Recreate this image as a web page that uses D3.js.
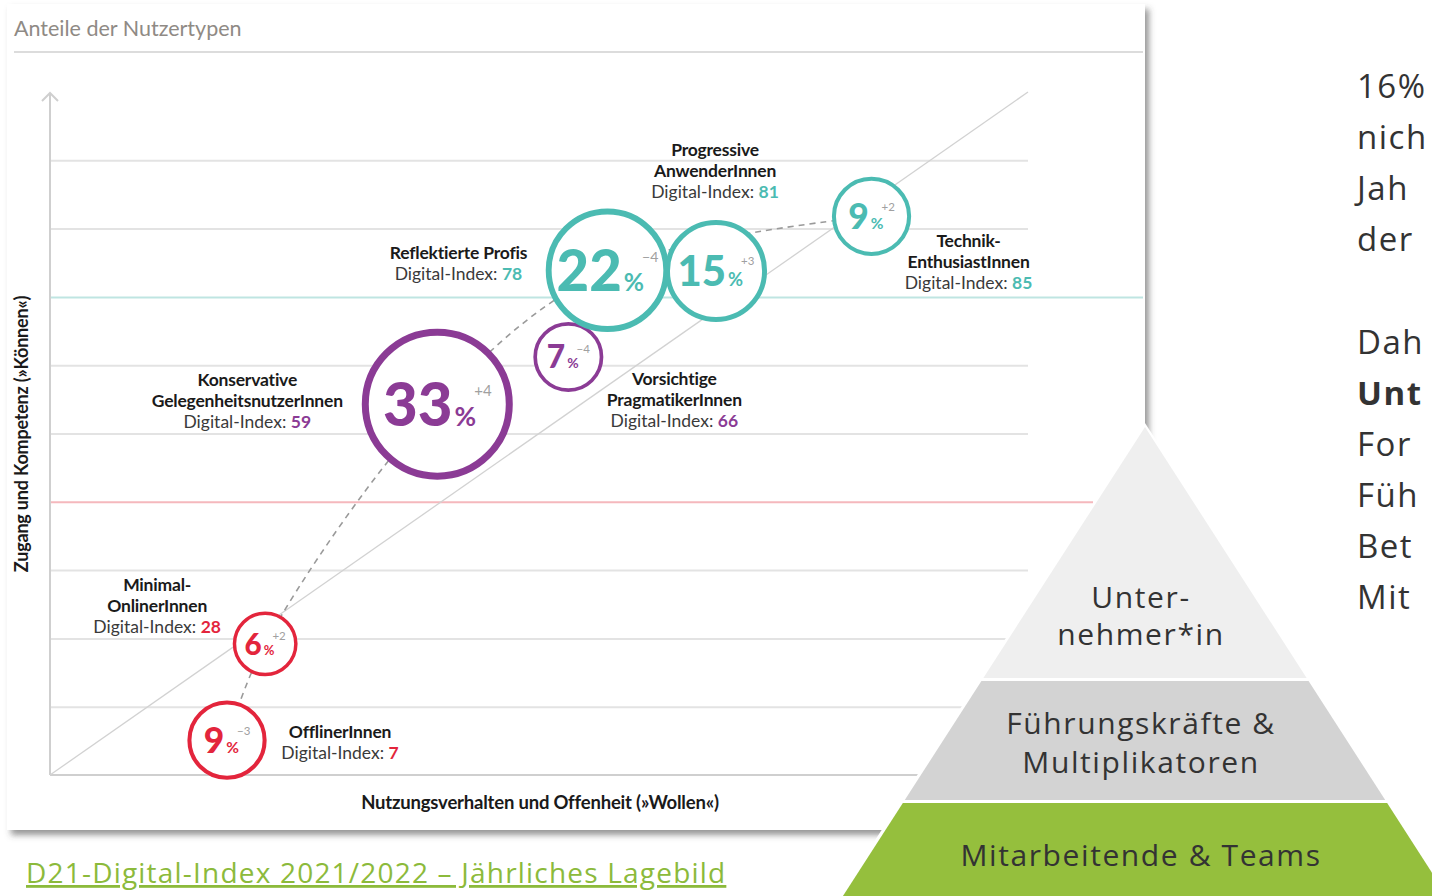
<!DOCTYPE html>
<html>
<head>
<meta charset="utf-8">
<script src="https://cdn.jsdelivr.net/npm/d3@7"></script>
<style>
  html, body { margin: 0; padding: 0; background: #fff; overflow: hidden; }
  svg { display: block; }
</style>
</head>
<body>
<svg id="slide" width="1432" height="896"></svg>
<script>
// Nutzertypen (D21-Digital-Index 2021/2022)
const userTypes = [
  'OfflinerInnen', 'Minimal-OnlinerInnen', 'Konservative GelegenheitsnutzerInnen',
  'Vorsichtige PragmatikerInnen', 'Reflektierte Profis', 'Progressive AnwenderInnen',
  'Technik-EnthusiastInnen'
];
const nameLines = [
  ['OfflinerInnen'], ['Minimal-', 'OnlinerInnen'], ['Konservative', 'GelegenheitsnutzerInnen'],
  ['Vorsichtige', 'PragmatikerInnen'], ['Reflektierte Profis'], ['Progressive', 'AnwenderInnen'],
  ['Technik-', 'EnthusiastInnen']
];
const shares = [9, 6, 33, 7, 22, 15, 9];
const changes = ['−3', '+2', '+4', '−4', '−4', '+3', '+2'];
const digitalIndex = [7, 28, 59, 66, 78, 81, 85];
const wollen = [18.1, 22.0, 39.6, 53.0, 57.0, 68.1, 84.0];   // x: Nutzungsverhalten und Offenheit
const koennen = [5.1, 19.2, 54.3, 61.2, 73.9, 73.8, 81.8];   // y: Zugang und Kompetenz
const groups = ['low', 'low', 'mid', 'mid', 'high', 'high', 'high'];
const curveTypes = ['OfflinerInnen', 'Minimal-OnlinerInnen', 'Konservative GelegenheitsnutzerInnen',
  'Reflektierte Profis', 'Technik-EnthusiastInnen'];
const gridValues = [10, 20, 30, 40, 50, 60, 70, 80, 90];

const pyramidTiers = [['Unter-', 'nehmer*in'], ['Führungskräfte &', 'Multiplikatoren'], ['Mitarbeitende & Teams']];
// slide text, visible only up to the window edge
const sideLines = ['16%', 'nich', 'Jah', 'der', '', 'Dah', 'Unt', 'For', 'Füh', 'Bet', 'Mit'];

// layout (pixels), kept apart from the values
const labelOffsets = [[113, -8], [-108, -59], [-190, -24], [106, 22], [-149, -17], [-1, -121], [97, 25]];
const tierBands = [[427, 678], [681, 800], [803, 900]];
const groupColor = { low: '#e3253c', mid: '#8b3b95', high: '#4bbbb2' };
const tierFill = ['#efefef', '#d3d3d3', '#95bf3d'];

const data = userTypes.map((name, i) => ({
  name, lines: nameLines[i], share: shares[i], change: changes[i], index: digitalIndex[i],
  x: wollen[i], y: koennen[i], group: groups[i], offset: labelOffsets[i]
}));

const chartFont = 'Lato, "Noto Sans", sans-serif';
const slideFont = '"Open Sans", "Noto Sans", sans-serif';

const xScale = d3.scaleLinear([0, 100], [50, 1028]);
const yScale = d3.scaleLinear([0, 100], [775, 92]);
const rScale = d3.scaleSqrt([0, 33], [0, 72]);
const strokeScale = d3.scaleLinear([31, 72], [3.5, 7]);
const fontScale = d3.scaleLinear([30, 37, 48, 58, 72], [29, 35, 41, 56, 60]);

const svg = d3.select('#slide');

const defs = svg.append('defs');
const shadow = defs.append('filter')
  .attr('id', 'card-shadow')
  .attr('x', -0.05).attr('y', -0.05).attr('width', 1.1).attr('height', 1.1);
shadow.append('feDropShadow')
  .attr('dx', 4).attr('dy', 5)
  .attr('stdDeviation', 3)
  .attr('flood-color', '#444')
  .attr('flood-opacity', 0.55);

// card with the chart
svg.append('rect')
  .attr('x', 7).attr('y', 4)
  .attr('width', 1138).attr('height', 826)
  .attr('fill', '#fff')
  .attr('filter', 'url(#card-shadow)');

svg.append('text')
  .text('Anteile der Nutzertypen')
  .attr('x', 14).attr('y', 36)
  .attr('font-family', chartFont)
  .attr('font-size', 21.5)
  .attr('fill', '#8f8a85');

svg.append('line')
  .attr('x1', 14).attr('x2', 1143)
  .attr('y1', 52).attr('y2', 52)
  .attr('stroke', '#dcdcdc')
  .attr('stroke-width', 2);

const plot = svg.append('g');

// gridlines
const yAxis = d3.axisLeft(yScale)
  .tickValues(gridValues)
  .tickSize(-(xScale(100) - xScale(0)))
  .tickFormat('');

plot.append('g')
  .attr('class', 'grid')
  .attr('transform', `translate(${xScale(0)}, 0)`)
  .call(yAxis)
  .call((g) => g.select('.domain').remove())
  .selectAll('.tick line')
    .attr('stroke', (d) => d === 70 ? '#bfe5e2' : d === 40 ? '#f5b8bd' : '#e3e3e3')
    .attr('stroke-width', 2)
    .attr('x2', (d) => d === 70 ? 1143 - xScale(0) : d === 40 ? 1093 - xScale(0) : xScale(100) - xScale(0));

// axes with arrow at top
plot.append('line')
  .attr('x1', xScale(0)).attr('x2', xScale(0))
  .attr('y1', yScale(0)).attr('y2', yScale(100) + 1)
  .attr('stroke', '#cfcfcf').attr('stroke-width', 2);
plot.append('path')
  .attr('d', `M${xScale(0) - 8},${yScale(100) + 9}L${xScale(0)},${yScale(100) + 1}L${xScale(0) + 8},${yScale(100) + 9}`)
  .attr('fill', 'none').attr('stroke', '#cfcfcf').attr('stroke-width', 2);
plot.append('line')
  .attr('x1', xScale(0)).attr('x2', xScale(100))
  .attr('y1', yScale(0)).attr('y2', yScale(0))
  .attr('stroke', '#cfcfcf').attr('stroke-width', 2);

// diagonal
plot.append('line')
  .attr('x1', xScale(0)).attr('y1', yScale(0))
  .attr('x2', xScale(100)).attr('y2', yScale(100))
  .attr('stroke', '#d2d2d2')
  .attr('stroke-width', 1.3);

// dashed development curve
const curveData = curveTypes.map((n) => data.find((d) => d.name === n));
const trend = d3.line()
  .x((d) => xScale(d.x))
  .y((d) => yScale(d.y))
  .curve(d3.curveCatmullRom);

plot.append('path')
  .datum(curveData)
  .attr('d', trend)
  .attr('fill', 'none')
  .attr('stroke', '#9a9a9a')
  .attr('stroke-width', 1.6)
  .attr('stroke-dasharray', '6 5');

// bubbles
const bubble = plot.selectAll('g.bubble')
  .data(data)
  .join('g')
    .attr('class', 'bubble')
    .attr('transform', (d) => `translate(${xScale(d.x)}, ${yScale(d.y)})`);

bubble.append('circle')
  .attr('r', (d) => rScale(d.share))
  .attr('fill', '#fff')
  .attr('stroke', (d) => groupColor[d.group])
  .attr('stroke-width', (d) => strokeScale(rScale(d.share)));

const shareText = bubble.append('text')
  .attr('text-anchor', 'middle')
  .attr('font-family', chartFont)
  .attr('font-weight', 900)
  .attr('fill', (d) => groupColor[d.group])
  .attr('y', (d) => fontScale(rScale(d.share)) * 0.36);

shareText.append('tspan')
  .text((d) => d.share)
  .attr('font-size', (d) => fontScale(rScale(d.share)));
shareText.append('tspan')
  .text('%')
  .attr('dx', 2)
  .attr('font-weight', 700)
  .attr('font-size', (d) => fontScale(rScale(d.share)) * 0.44);
shareText.append('tspan')
  .text((d) => d.change)
  .attr('dx', -2)
  .attr('dy', (d) => -fontScale(rScale(d.share)) * 0.5)
  .attr('font-weight', 400)
  .attr('fill', '#a0a0a0')
  .attr('font-size', (d) => Math.max(11.5, fontScale(rScale(d.share)) * 0.25));

// type labels
const label = plot.selectAll('g.type-label')
  .data(data)
  .join('g')
    .attr('class', 'type-label')
    .attr('transform', (d) => `translate(${xScale(d.x) + d.offset[0]}, ${yScale(d.y) + d.offset[1]})`)
    .attr('font-family', chartFont)
    .attr('font-size', 17.5)
    .attr('text-anchor', 'middle');

label.each(function (d) {
  const g = d3.select(this);
  d.lines.forEach((line, i) => {
    g.append('text')
      .text(line)
      .attr('y', i * 21 + 6)
      .attr('font-weight', 700)
      .attr('letter-spacing', -0.2)
      .attr('fill', '#1a1a1a');
  });
  const idx = g.append('text')
    .attr('y', d.lines.length * 21 + 6)
    .attr('fill', '#3a3a3a');
  idx.append('tspan').text('Digital-Index: ');
  idx.append('tspan').text(d.index)
    .attr('font-weight', 700)
    .attr('fill', groupColor[d.group]);
});

// axis titles
svg.append('text')
  .text('Nutzungsverhalten und Offenheit (»Wollen«)')
  .attr('x', 540).attr('y', 809)
  .attr('text-anchor', 'middle')
  .attr('font-family', chartFont)
  .attr('font-weight', 700)
  .attr('font-size', 18.5)
  .attr('letter-spacing', -0.2)
  .attr('fill', '#1a1a1a');

svg.append('text')
  .text('Zugang und Kompetenz (»Können«)')
  .attr('transform', 'translate(28, 434) rotate(-90)')
  .attr('text-anchor', 'middle')
  .attr('font-family', chartFont)
  .attr('font-weight', 700)
  .attr('font-size', 18)
  .attr('letter-spacing', -0.2)
  .attr('fill', '#1a1a1a');

// pyramid
const apexX = 1145;
const apexY = 427;
const spread = 0.644;
const edge = (y) => [apexX - spread * (y - apexY), apexX + spread * (y - apexY)];

// white backing so the gaps between tiers stay white over the card
const [bl, br] = edge(900);
svg.append('path')
  .attr('d', `M${apexX},${apexY - 4}L${br + 4},900L${bl - 4},900Z`)
  .attr('fill', '#fff');

const tier = svg.selectAll('g.tier')
  .data(pyramidTiers)
  .join('g')
    .attr('class', 'tier');

tier.append('path')
  .attr('d', (d, i) => {
    const [y0, y1] = tierBands[i];
    const [l0, r0] = edge(y0);
    const [l1, r1] = edge(y1);
    return `M${l0},${y0}L${r0},${y0}L${r1},${y1}L${l1},${y1}Z`;
  })
  .attr('fill', (d, i) => tierFill[i]);

const tierTextY = [[597, 634], [723, 762], [855]];
tier.each(function (d, i) {
  d.forEach((line, j) => {
    d3.select(this).append('text')
      .text(line)
      .attr('x', 1141)
      .attr('y', tierTextY[i][j] + 11)
      .attr('text-anchor', 'middle')
      .attr('font-family', slideFont)
      .attr('font-size', 30)
      .attr('letter-spacing', 1.6)
      .attr('fill', '#333');
  });
});

// slide text on the right (cut by the window in the original)
svg.append('g')
  .selectAll('text')
  .data(sideLines)
  .join('text')
    .text((d) => d)
    .attr('x', 1357)
    .attr('y', (d, i) => 86 + i * 51.1 + 12)
    .attr('font-family', slideFont)
    .attr('font-size', 33)
    .attr('letter-spacing', 1.5)
    .attr('font-weight', (d) => d === 'Unt' ? 700 : 400)
    .attr('fill', '#333');

// source link
svg.append('text')
  .text('D21-Digital-Index 2021/2022 – Jährliches Lagebild')
  .attr('x', 26).attr('y', 883)
  .attr('font-family', slideFont)
  .attr('font-size', 28)
  .attr('letter-spacing', 1.2)
  .attr('text-decoration', 'underline')
  .attr('fill', '#8cba3b');
</script>
</body>
</html>
